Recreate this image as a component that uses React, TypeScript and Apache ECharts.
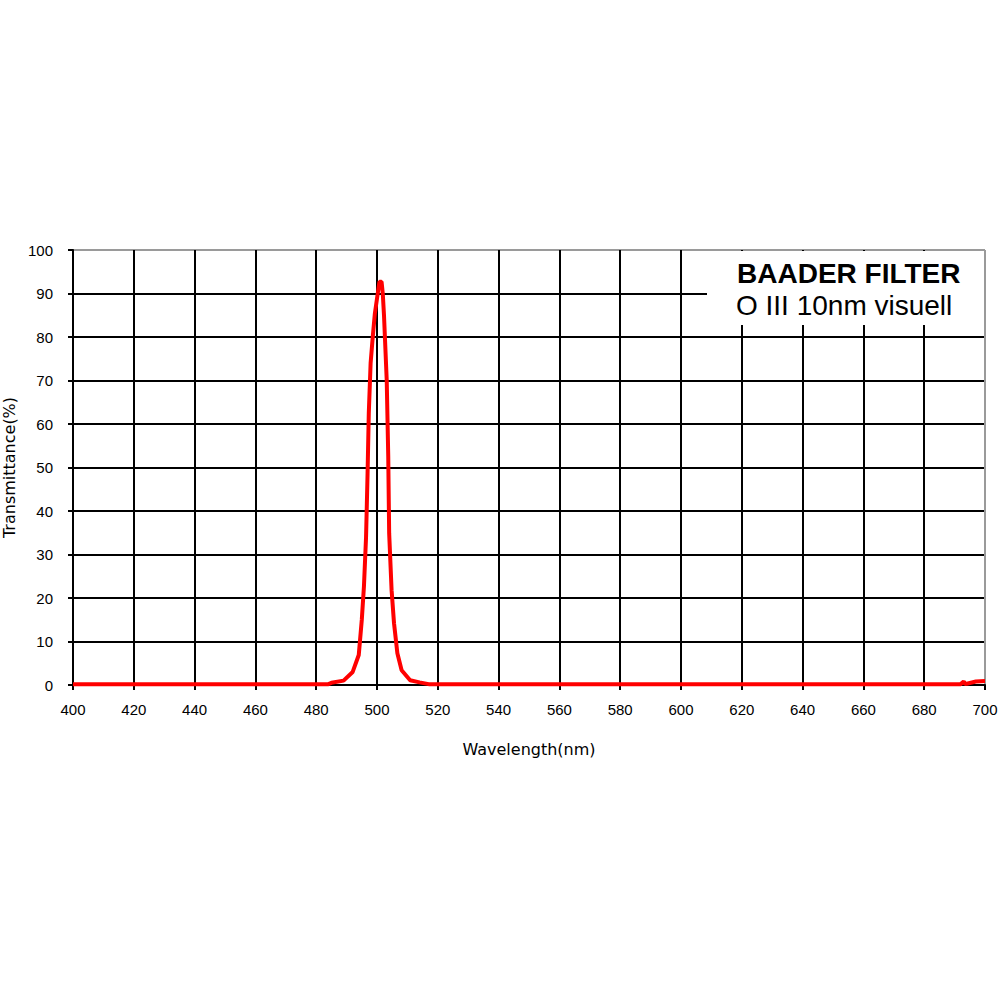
import React, { useEffect, useRef } from "react";
import * as echarts from "echarts";

const wavelengths = [400, 484, 485, 489, 492, 494, 495, 495.7, 496.4, 496.9, 497.3, 497.9, 498.6, 499.3, 500.1, 500.8, 501.5, 501.9, 502.3, 503.2, 503.7, 504, 504.8, 505.6, 506.7, 508.1, 510.9, 514, 517, 692, 693, 693.5, 694, 697, 700];
const transmittance = [0.2, 0.2, 0.5, 1.0, 3, 6.9, 15, 22.6, 34, 48.7, 62.5, 74, 80, 85.4, 89.3, 92.7, 92.7, 90, 85, 70, 52.5, 34.9, 21.8, 14.2, 7.3, 3.4, 1.1, 0.6, 0.2, 0.2, 0.8, 0.2, 0.3, 0.8, 0.9];
const titleLines = ["BAADER FILTER", "O III 10nm visuell"];
const xName = "Wavelength(nm)";
const yName = "Transmittance(%)";

export default function App() {
  const ref = useRef<HTMLDivElement>(null);
  useEffect(() => {
    const chart = echarts.init(ref.current!, null, { renderer: "svg" });
    const font = "'Liberation Sans', Arial, sans-serif";
    const nameFont = "'DejaVu Sans', sans-serif";
    const xColors = Array.from({ length: 16 }, (_, i) => (i === 15 ? "#9a9a9a" : "#000"));
    const yColors = Array.from({ length: 11 }, (_, i) => (i === 10 ? "#9a9a9a" : "#000"));
    chart.setOption({
      animation: false,
      backgroundColor: "#fff",
      grid: { left: 73, right: 15, top: 250, bottom: 315, show: false, containLabel: false, outerBoundsMode: "none" },
      xAxis: {
        type: "value",
        min: 400,
        max: 700,
        interval: 20,
        name: xName,
        nameLocation: "middle",
        nameGap: 56,
        nameTextStyle: { color: "#000", fontSize: 16, fontFamily: nameFont },
        axisLine: { show: true, onZero: false, lineStyle: { color: "#000", width: 2 } },
        axisTick: { show: true, length: 5, lineStyle: { color: "#000", width: 2 } },
        axisLabel: { color: "#000", fontSize: 15, fontFamily: font, margin: 17 },
        splitLine: { show: true, lineStyle: { color: xColors, width: 2 } },
      },
      yAxis: {
        type: "value",
        min: 0,
        max: 100,
        interval: 10,
        name: yName,
        nameLocation: "middle",
        nameGap: 56,
        nameTextStyle: { color: "#000", fontSize: 16, fontFamily: nameFont },
        axisLine: { show: true, lineStyle: { color: "#000", width: 2 } },
        axisTick: { show: true, length: 5, lineStyle: { color: "#000", width: 2 } },
        axisLabel: { color: "#000", fontSize: 15, fontFamily: font, margin: 20 },
        splitLine: { show: true, lineStyle: { color: yColors, width: 2 } },
      },
      series: [
        {
          type: "line",
          data: wavelengths.map((w, i) => [w, transmittance[i]]),
          showSymbol: false,
          lineStyle: { color: "#ff0000", width: 4 },
          z: 5,
        },
      ],
      graphic: [
        {
          type: "rect",
          z: 100,
          shape: { x: 707, y: 251, width: 277, height: 74 },
          style: { fill: "#fff" },
        },
        {
          type: "text",
          z: 101,
          x: 737,
          y: 273,
          style: {
            text: titleLines[0],
            fontSize: 28,
            fontWeight: "bold",
            fontFamily: font,
            fill: "#000",
            verticalAlign: "middle",
          },
        },
        {
          type: "text",
          z: 101,
          x: 736,
          y: 305,
          style: {
            text: titleLines[1],
            fontSize: 28,
            fontFamily: font,
            fill: "#000",
            verticalAlign: "middle",
          },
        },
      ],
    });
    return () => chart.dispose();
  }, []);
  return (
    <div
      ref={ref}
      style={{ position: "fixed", left: 0, top: 0, width: 1000, height: 1000, background: "#fff" }}
    />
  );
}
